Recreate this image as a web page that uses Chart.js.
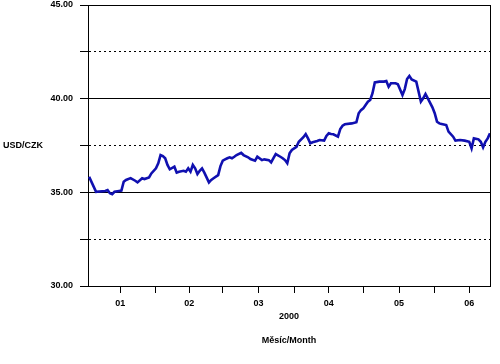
<!DOCTYPE html>
<html>
<head>
<meta charset="utf-8">
<script src="https://cdn.jsdelivr.net/npm/chart.js@4.4.0/dist/chart.umd.min.js"></script>
<style>
  body { margin:0; background:#fff; }
  canvas { display:block; }
</style>
</head>
<body>
<canvas id="fx" width="500" height="364"></canvas>
<script>
// day of year 2000 (1 = 1 Jan) and USD/CZK rate
const days = [3,6,10,11,12,13,14,16,17,18,19,21,23,24,26,27,29,30,32,33,34,35,36,37,38,
  40,41,42,44,45,46,47,48,49,50,51,52,53,55,56,57,59,60,61,62,63,64,65,66,67,69,70,72,73,
  75,76,78,79,81,82,83,84,86,87,88,89,90,91,93,94,96,97,98,99,100,102,103,105,106,107,108,
  109,111,112,113,114,117,119,120,121,122,123,124,125,126,127,129,131,132,133,134,136,137,
  139,140,141,142,143,145,147,148,149,150,152,153,154,155,156,158,159,161,162,164,166,168,
  169,170,172,173,174,175,176,177]
const rates = [35.83,35.03,35.07,35.12,34.95,34.90,35.03,35.07,35.09,35.57,35.66,35.76,35.62,
  35.53,35.75,35.71,35.80,36.01,36.28,36.55,36.99,36.94,36.82,36.46,36.23,
  36.37,36.05,36.10,36.15,36.10,36.28,36.10,36.46,36.28,35.98,36.15,36.28,36.05,35.53,35.66,
  35.75,35.92,36.40,36.69,36.76,36.82,36.87,36.82,36.90,36.99,37.11,36.99,36.87,36.78,
  36.69,36.90,36.72,36.76,36.72,36.60,36.82,37.04,36.90,36.82,36.72,36.55,37.08,37.26,37.43,
  37.70,37.94,38.11,37.88,37.62,37.67,37.74,37.79,37.76,38.01,38.15,38.11,
  38.10,37.97,38.38,38.56,38.63,38.68,38.74,39.22,39.39,39.48,39.66,39.84,39.93,40.29,40.87,
  40.91,40.91,40.94,40.64,40.82,40.82,40.77,40.19,40.51,41.05,41.21,41.03,40.91,39.84,40.02,
  40.25,40.02,39.54,39.22,38.77,38.68,38.65,38.59,38.24,37.97,37.76,37.79,37.76,37.70,
  37.35,37.88,37.83,37.70,37.40,37.70,37.88,38.15]

const monthLabels = ['01','02','03','04','05','06']
const monthCenters = [16.5,46.5,76.5,107,137.5,168]
const monthBounds = [32,61,92,122,153]

const FONT = 'bold 9px "Liberation Sans", Arial, sans-serif'

const extraText = {
  id: 'extraText',
  afterDraw(chart){
    const ctx = chart.ctx
    const area = chart.chartArea
    const cx = (area.left + area.right) / 2
    ctx.save()
    ctx.fillStyle = '#000'
    ctx.font = FONT
    ctx.textBaseline = 'middle'
    ctx.textAlign = 'left'
    ctx.fillText('USD/CZK', 3, 146)
    ctx.textAlign = 'center'
    ctx.fillText('2000', cx, 317)
    ctx.fillText('Měsíc/Month', cx, 341)
    ctx.restore()
  }
}

new Chart(document.getElementById('fx'), {
  type: 'line',
  data: {
    datasets: [{
      data: days.map((d, i) => ({x: d, y: rates[i]})),
      borderColor: '#1010b0',
      borderWidth: 2.6,
      pointRadius: 0,
      tension: 0,
      fill: false,
    }]
  },
  options: {
    responsive: false,
    animation: false,
    devicePixelRatio: 1,
    layout: { padding: { top: 5, right: 10, left: 0, bottom: 0 } },
    plugins: { legend: { display: false }, tooltip: { enabled: false } },
    scales: {
      x: {
        type: 'linear',
        min: 2.5,
        max: 177,
        afterBuildTicks(scale){
          scale.ticks = monthBounds.concat(monthCenters).map(v => ({value: v}))
        },
        afterFit(scale){ scale.height = 78 },
        ticks: {
          color: '#000',
          font: { family: '"Liberation Sans", Arial, sans-serif', size: 9, weight: 'bold' },
          padding: 5,
          maxRotation: 0,
          autoSkip: false,
          callback: function(value){
            const i = monthCenters.indexOf(value)
            return i >= 0 ? monthLabels[i] : ''
          },
        },
        grid: { drawOnChartArea: false, color: '#000', tickLength: 7 },
        border: { color: '#000', width: 1 },
      },
      y: {
        min: 30,
        max: 45,
        afterFit(scale){
          scale.width = 88
          scale.paddingTop = 0
          scale.paddingBottom = 0
        },
        ticks: {
          stepSize: 2.5,
          color: '#000',
          font: { family: '"Liberation Sans", Arial, sans-serif', size: 9, weight: 'bold' },
          padding: 7,
          callback: v => (v % 5 === 0 ? v.toFixed(2) : ''),
        },
        grid: { color: '#000', lineWidth: 1, tickLength: 8 },
        border: {
          color: '#000',
          width: 1,
          dash: c => (c.tick && c.tick.value % 5 !== 0 ? [2, 3] : []),
        },
      },
      y2: {
        position: 'right',
        min: 30,
        max: 45,
        afterFit(scale){
          scale.width = 0
          scale.paddingTop = 0
          scale.paddingBottom = 0
        },
        ticks: { display: false },
        grid: { display: false },
        border: { color: '#000', width: 1 },
      }
    }
  },
  plugins: [extraText]
})
</script>
</body>
</html>
